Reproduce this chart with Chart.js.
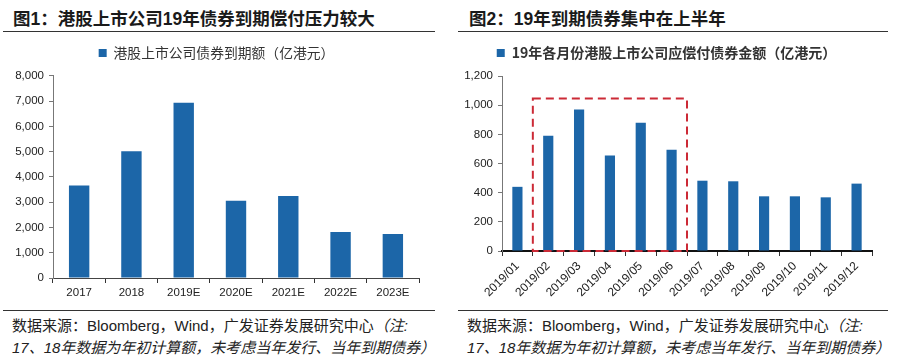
<!DOCTYPE html>
<html lang="zh">
<head>
<meta charset="UTF-8">
<title>港股上市公司债券到期</title>
<script src="https://cdn.jsdelivr.net/npm/chart.js"></script>
<style>
  body { margin: 0; background: #fff; width: 898px; height: 362px; position: relative; overflow: hidden;
         font-family: "Liberation Sans", Arial, "Noto Sans CJK SC", sans-serif; color: #222; }
  .title { position: absolute; top: 5px; font-family: "Liberation Sans", Arial, "Noto Sans CJK SC", sans-serif;
           font-weight: bold; font-size: 17.5px; white-space: nowrap; color: #1a1a1a; }
  .rule { position: absolute; height: 1px; background: #333; }
  .box { position: absolute; top: 40px; height: 265px; }
  .note { position: absolute; top: 315px; font-size: 15px; line-height: 22px; white-space: nowrap; color: #222; }
  .note i { font-style: italic; }
</style>
</head>
<body>
<div class="title" style="left:13px">图1：港股上市公司19年债券到期偿付压力较大</div>
<div class="title" style="left:469px">图2：19年到期债券集中在上半年</div>
<div class="rule" style="left:3px; width:432px; top:31px"></div>
<div class="rule" style="left:458px; width:430px; top:31px"></div>

<div class="box" style="left:14px; width:426px"><canvas id="chart1"></canvas></div>
<div class="box" style="left:461px; width:437px"><canvas id="chart2"></canvas></div>

<div class="rule" style="left:3px; width:432px; top:310px"></div>
<div class="rule" style="left:458px; width:430px; top:310px"></div>
<div class="note" style="left:12px">数据来源：Bloomberg，Wind，广发证券发展研究中心<i>（注:<br>17、18年数据为年初计算额，未考虑当年发行、当年到期债券）</i></div>
<div class="note" style="left:467px">数据来源：Bloomberg，Wind，广发证券发展研究中心<i>（注:<br>17、18年数据为年初计算额，未考虑当年发行、当年到期债券）</i></div>

<script>
const years = ['2017', '2018', '2019E', '2020E', '2021E', '2022E', '2023E'];
const maturity = [3660, 5010, 6930, 3060, 3240, 1820, 1740];
const months = ['2019/01', '2019/02', '2019/03', '2019/04', '2019/05', '2019/06',
                '2019/07', '2019/08', '2019/09', '2019/10', '2019/11', '2019/12'];
const monthly = [440, 790, 970, 655, 880, 695, 482, 478, 375, 375, 368, 462];
// dashed box around Feb-Jun: category range and top value
const boxRange = [0.5, 5.5];
const boxTop = 1045;

const barColor = '#1c66a8';
const fontFamily = '"Liberation Sans", Arial, "Noto Sans CJK SC", sans-serif';
const cjkFont = '"Noto Sans CJK SC", "Liberation Sans", sans-serif';

function fmt(v) { return Number(v).toLocaleString('en-US'); }

function axes(yMax, yStep, rotate, xSize, xHeight, yWidth, xBorder) {
  return {
    x: {
      grid: { display: true, drawOnChartArea: false, drawTicks: true, tickLength: 5, color: '#333', offset: true },
      border: { display: true, color: xBorder.color, width: xBorder.width },
      ticks: { color: '#222', font: { family: fontFamily, size: xSize }, padding: 3,
               maxRotation: rotate, minRotation: rotate, autoSkip: false },
      afterFit: s => { s.height = xHeight; }
    },
    y: {
      min: 0, max: yMax,
      grid: { display: true, drawOnChartArea: false, drawTicks: true, tickLength: 4, color: '#777' },
      border: { display: true, color: '#777' },
      ticks: { stepSize: yStep, color: '#222', font: { family: fontFamily, size: 11.5 }, padding: 5,
               callback: v => fmt(v) },
      afterFit: s => { s.width = yWidth; }
    }
  };
}

function legendOpts(size, weight) {
  return {
    display: true,
    labels: { boxWidth: 8, boxHeight: 8, padding: 6, color: '#333',
              font: { family: cjkFont, size: size, weight: weight } }
  };
}

// leave a gap under the legend so the plot starts lower
const legendGap = {
  id: 'legendGap',
  beforeUpdate(chart) {
    const lg = chart.legend;
    if (lg && !lg._gapped) {
      const fit = lg.fit;
      lg.fit = function () { fit.call(this); this.height += 6; };
      lg._gapped = true;
    }
  }
};

new Chart(document.getElementById('chart1'), {
  type: 'bar',
  data: {
    labels: years,
    datasets: [{ label: '港股上市公司债券到期额（亿港元）', data: maturity, backgroundColor: barColor,
                 categoryPercentage: 1, barPercentage: 0.39 }]
  },
  options: {
    responsive: true, maintainAspectRatio: false, animation: false,
    layout: { padding: { top: 0, right: 21, bottom: 0, left: 0 } },
    plugins: { legend: legendOpts(13.8, 'normal'), tooltip: { enabled: false } },
    scales: axes(8000, 1000, 0, 11.5, 27, 39, { color: '#444', width: 1 })
  },
  plugins: [legendGap]
});

const dashedBox = {
  id: 'dashedBox',
  afterDatasetsDraw(chart) {
    const { ctx, scales: { x, y } } = chart;
    const x0 = x.getPixelForValue(boxRange[0]);
    const x1 = x.getPixelForValue(boxRange[1]);
    const y0 = y.getPixelForValue(0);
    const y1 = y.getPixelForValue(boxTop);
    ctx.save();
    ctx.strokeStyle = '#cc2a36';
    ctx.lineWidth = 2;
    ctx.setLineDash([8, 5]);
    ctx.strokeRect(x0, y1, x1 - x0, y0 - y1);
    ctx.restore();
  }
};

new Chart(document.getElementById('chart2'), {
  type: 'bar',
  data: {
    labels: months,
    datasets: [{ label: '19年各月份港股上市公司应偿付债券金额（亿港元）', data: monthly, backgroundColor: barColor,
                 categoryPercentage: 1, barPercentage: 0.33 }]
  },
  options: {
    responsive: true, maintainAspectRatio: false, animation: false,
    layout: { padding: { top: 0, right: 26, bottom: 0, left: 0 } },
    plugins: { legend: legendOpts(14, 'bold'), tooltip: { enabled: false } },
    scales: axes(1200, 200, 45, 12, 54, 41, { color: '#111', width: 2 })
  },
  plugins: [legendGap, dashedBox]
});
</script>
</body>
</html>
